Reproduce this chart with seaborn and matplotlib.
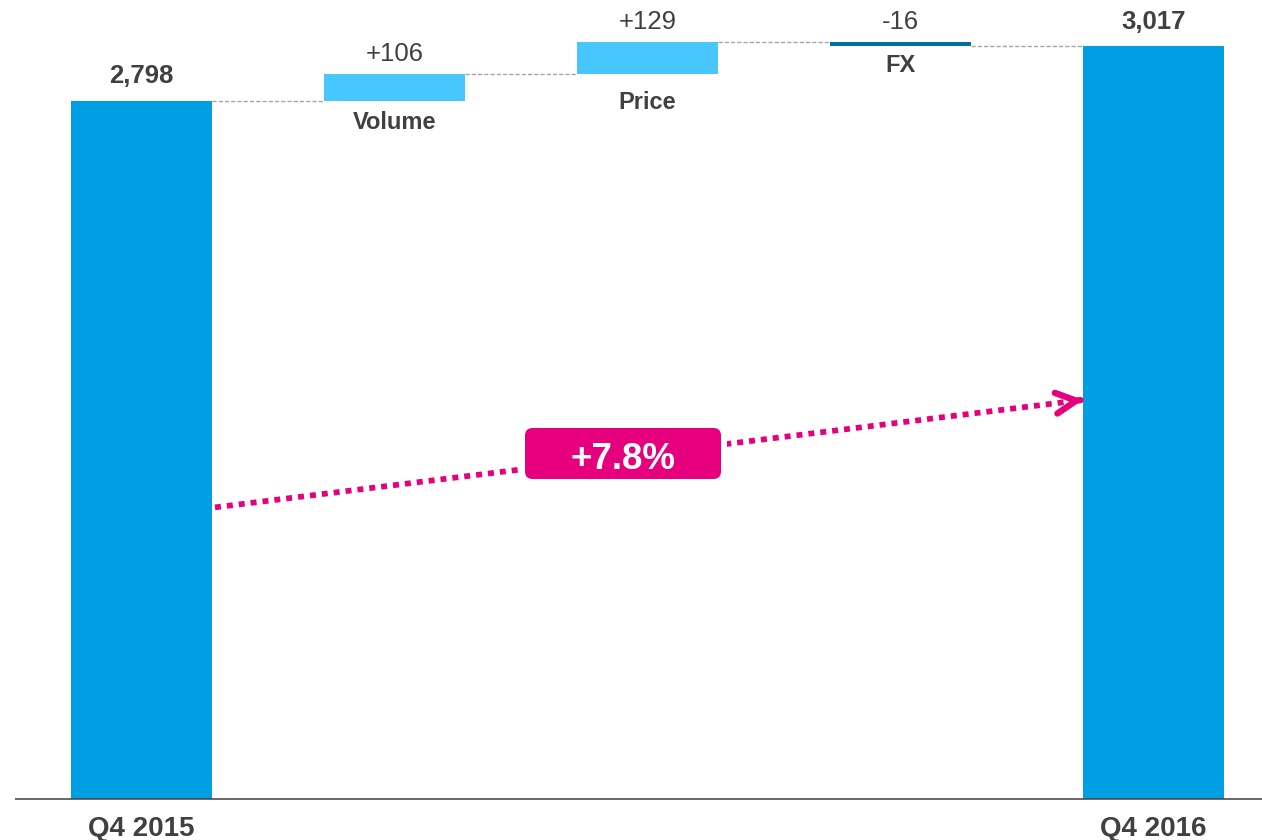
import numpy as np
import pandas as pd
import matplotlib
matplotlib.use("Agg")
import matplotlib.pyplot as plt
import matplotlib.transforms as mtransforms
from matplotlib.patches import FancyBboxPatch
import seaborn as sns

# ---------------- data ----------------
categories = ["Q4 2015", "Volume", "Price", "FX", "Q4 2016"]
kinds = ["total", "delta", "delta", "delta", "total"]
start_total = 2798
deltas = [106, 129, -16]
end_total = 3017
value_labels = ["2,798", "+106", "+129", "-16", "3,017"]
change_label = "+7.8%"

# ---------------- derived waterfall geometry ----------------
levels = [start_total]
for d in deltas:
    levels.append(levels[-1] + d)
bottoms = [0] + [min(levels[i], levels[i + 1]) for i in range(len(deltas))] + [0]
heights = [start_total] + [abs(d) for d in deltas] + [end_total]
tops = [b + h for b, h in zip(bottoms, heights)]
signs = [0] + [np.sign(d) for d in deltas] + [0]

df = pd.DataFrame({"category": categories, "height": heights})

# ---------------- style ----------------
sns.set_theme(style="white")
plt.rcParams["font.family"] = ["Liberation Sans", "DejaVu Sans"]

C_TOTAL = "#009FE3"
C_UP = "#48C7FF"
C_DOWN = "#0070A0"
C_TEXT = "#404040"
C_CONN = "#A6A6A6"
C_MAG = "#E6007E"

W = 0.557
fig = plt.figure(figsize=(12.62, 8.40), dpi=100)
ax = fig.add_axes([0, 0, 1, 1])

sns.barplot(data=df, x="category", y="height", order=categories,
            bottom=bottoms, width=W, errorbar=None, ax=ax,
            color=C_TOTAL, saturation=1, linewidth=0)

for p, k, s in zip(ax.patches, kinds, signs):
    if k == "total":
        p.set_facecolor(C_TOTAL)
    elif s > 0:
        p.set_facecolor(C_UP)
    else:
        p.set_facecolor(C_DOWN)
    p.set_edgecolor("none")

ax.set_xlim(-0.5593, 4.4289)
ax.set_ylim(-163, 3201)
ax.axis("off")

# baseline
ax.plot([-0.5, 4.4289], [0, 0], color=C_TEXT, lw=1.1, solid_capstyle="butt", zorder=4)

# connectors
for i in range(len(categories) - 1):
    lvl = levels[i]
    ax.plot([i + W / 2, i + 1 - W / 2], [lvl, lvl], color=C_CONN, lw=1.0,
            ls=(0, (3, 1.5)), zorder=1)

# value labels
for i, (lab, k) in enumerate(zip(value_labels, kinds)):
    if k == "total":
        ax.annotate(lab, (i, tops[i]), xytext=(0, 12.5), textcoords="offset points",
                    ha="center", va="baseline", fontsize=18.5, fontweight="bold",
                    color=C_TEXT)
    else:
        ax.annotate(lab, (i, tops[i]), xytext=(0, 9.4), textcoords="offset points",
                    ha="center", va="baseline", fontsize=18.5, color=C_TEXT)

# category labels
name_offsets = {1: 20.5, 2: 25.0, 3: 19.0}
for i, (cat, k) in enumerate(zip(categories, kinds)):
    if k == "total":
        ax.annotate(cat, (i, 0), xytext=(0, -26.2), textcoords="offset points",
                    ha="center", va="baseline", fontsize=20, fontweight="bold",
                    color=C_TEXT)
    else:
        ax.annotate(cat, (i, bottoms[i]), xytext=(0, -name_offsets[i]),
                    textcoords="offset points", ha="center", va="baseline",
                    fontsize=17, fontweight="bold", color=C_TEXT)

# growth arrow
trans = mtransforms.blended_transform_factory(ax.transData, ax.transAxes)
x0 = 0 + W / 2 + 0.012
x1 = len(categories) - 1 - W / 2
y0, y1 = 0.396, 0.524
xe = x1 - 0.06
ye = y0 + (y1 - y0) * (xe - x0) / (x1 - x0)
ax.plot([x0, xe], [y0, ye], transform=trans, color=C_MAG, lw=4.1,
        ls=(0, (1.05, 1.05)), solid_capstyle="butt", dash_capstyle="butt", zorder=5)
xs = x1 - 0.01
ys = y0 + (y1 - y0) * (xs - x0) / (x1 - x0)
ax.annotate("", xy=(x1, y1), xycoords=trans, xytext=(xs, ys), textcoords=trans,
            arrowprops=dict(arrowstyle="->,head_length=1.45,head_width=0.75",
                            color=C_MAG, lw=4.6, mutation_scale=10,
                            shrinkA=0, shrinkB=0, capstyle="round",
                            joinstyle="round"),
            zorder=5)

# label box
FW, FH = 1262.0, 840.0
bx, by, bw, bh = 525 / FW, 1 - 479 / FH, 196 / FW, 51 / FH
pad = 6
ax.add_patch(FancyBboxPatch((bx - pad / FW, by - pad / FH), bw + 2 * pad / FW,
                            bh + 2 * pad / FH,
                            boxstyle="round,pad=0,rounding_size=0.008",
                            mutation_aspect=FW / FH, transform=ax.transAxes,
                            fc="white", ec="none", zorder=6))
ax.add_patch(FancyBboxPatch((bx, by), bw, bh,
                            boxstyle="round,pad=0,rounding_size=0.006",
                            mutation_aspect=FW / FH, transform=ax.transAxes,
                            fc=C_MAG, ec="none", zorder=7))
ax.text(bx + bw / 2, 1 - 469.3 / FH, change_label, transform=ax.transAxes,
        ha="center", va="baseline", fontsize=26.5, fontweight="bold",
        color="white", zorder=8)

fig.savefig("out.png", dpi=100)
